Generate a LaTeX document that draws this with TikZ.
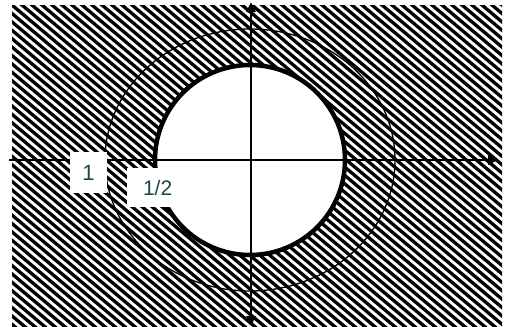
\documentclass[tikz,border=0pt]{standalone}
\usepackage{fontspec}
\setmainfont{Liberation Sans}
\usetikzlibrary{arrows.meta}
\definecolor{labelcol}{HTML}{1C4848}
\tikzset{
  hatchline/.style={line width=3.3pt, black},
  axis/.style={line width=2.8pt, black},
  thickring/.style={line width=4.5pt, black},
  thinring/.style={line width=1.3pt, black},
  labelbox/.style={fill=white, text=labelcol, inner sep=0pt}
}
\begin{document}
\begin{tikzpicture}[x=1pt,y=-1pt]
\useasboundingbox (0,0) rectangle (512,327);
\fill[white] (0,0) rectangle (512,327);
% hatching
\begin{scope}
\clip (12,5) rectangle (502,327);
\foreach \s in {-420,-410,...,520} {
  \draw[hatchline] (\s,-5) -- ({\s+340/0.84},335);
}
\end{scope}
% white disk
\coordinate (O) at (250,160);
\fill[white] (O) circle[radius=95];
% thin outer ellipse
\draw[thinring] (O) ellipse[x radius=145, y radius=131];
% axes
\coordinate (xl) at (9,160);
\coordinate (xr) at (498,160);
\coordinate (yt) at (251,2);
\coordinate (yb) at (251,326);
\draw[axis,-{Triangle[length=10pt,width=9pt]}] (xl) -- (xr);
\draw[axis,{Triangle[length=10pt,width=9pt]}-{Triangle[length=10pt,width=9pt]}] (yb) -- (yt);
% thick ring
\draw[thickring] (O) circle[radius=95];
% labels
\node[labelbox, minimum width=37pt, minimum height=41pt, font=\fontsize{22}{22}\selectfont] (one) at (88.5,172.5) {1};
\node[labelbox, minimum width=56pt, minimum height=39pt, text width=56pt, align=left, font=\fontsize{21}{21}\selectfont] (half) at (155,187.5) {\hspace{16pt}1/2};
\end{tikzpicture}
\end{document}
